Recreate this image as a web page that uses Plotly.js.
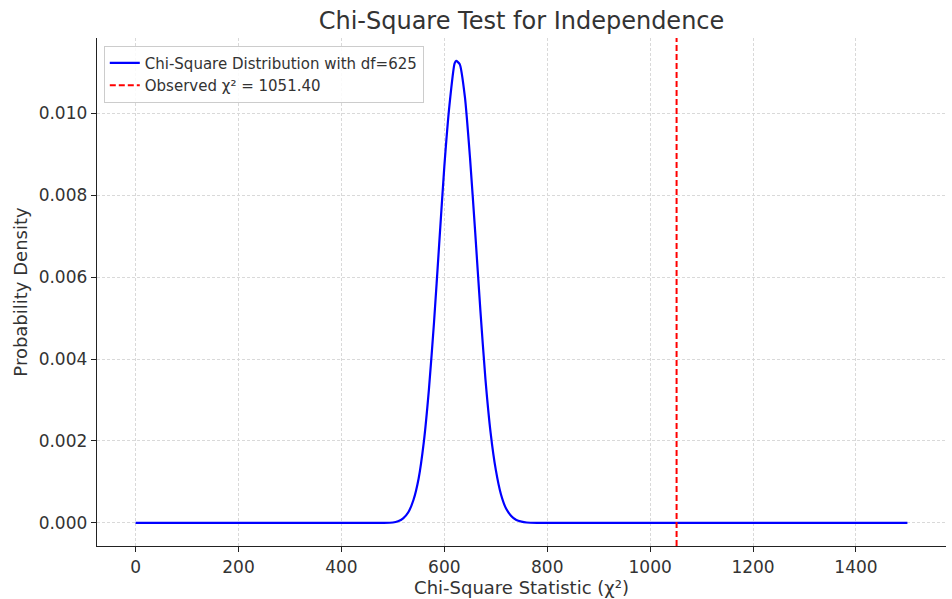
<!DOCTYPE html>
<html>
<head>
<meta charset="utf-8">
<script src="https://cdn.plot.ly/plotly-3.0.1.min.js"></script>
<style>html,body{margin:0;padding:0;background:#fff;}#chart{width:952px;height:599px;}</style>
</head>
<body>
<div id="chart"></div>
<script>
// Values
const chiX = [0, 100, 200, 300, 400, 450, 480, 500, 510, 520, 530, 540, 550, 560, 570, 580, 590, 600, 610, 620, 623, 630, 640, 650, 660, 670, 680, 690, 700, 710, 720, 730, 740, 750, 760, 780, 800, 850, 900, 1000, 1100, 1200, 1300, 1400, 1500];
const chiY = [0, 0, 0, 0, 0, 0, 0.000002, 0.00001, 0.00004, 0.00011, 0.00026, 0.00056, 0.00108, 0.00196, 0.00325, 0.0049, 0.0068, 0.0087, 0.0102, 0.01122, 0.01128, 0.0112, 0.0104, 0.0089, 0.0071, 0.0052, 0.0035, 0.0022, 0.0013, 0.0007, 0.00035, 0.00017, 0.00007, 0.00003, 0.00001, 0.000001, 0, 0, 0, 0, 0, 0, 0, 0, 0];
const observedChi2 = 1051.40;
const degreesOfFreedom = 625;
const xTicks = [0, 200, 400, 600, 800, 1000, 1200, 1400];
const yTicks = [0.000, 0.002, 0.004, 0.006, 0.008, 0.010];
const yTickLabels = ["0.000", "0.002", "0.004", "0.006", "0.008", "0.010"];
const xRange = [-75, 1575];
const yRange = [-0.000564, 0.01184];

const font = "DejaVu Sans, sans-serif";
const traces = [
  {
    x: chiX, y: chiY, type: "scatter", mode: "lines",
    name: "Chi-Square Distribution with df=" + degreesOfFreedom,
    line: {color: "#0000ff", width: 2.2, shape: "spline", smoothing: 0.6}
  },
  {
    x: [observedChi2, observedChi2], y: yRange, type: "scatter", mode: "lines",
    name: "Observed χ² = " + observedChi2.toFixed(2),
    line: {color: "#ff0000", width: 2, dash: "6px,3px"}
  }
];
const layout = {
  width: 952, height: 599,
  paper_bgcolor: "#fff", plot_bgcolor: "#fff",
  margin: {l: 97, r: 6, t: 38, b: 53},
  font: {family: font, color: "#333", size: 14},
  title: {text: "Chi-Square Test for Independence", font: {family: font, size: 24, color: "#333"}, xref: "paper", x: 0.5, xanchor: "center", y: 0.965, yanchor: "middle"},
  xaxis: {
    range: xRange, tickvals: xTicks, ticktext: xTicks.map(String),
    showline: true, linecolor: "#222", linewidth: 1.3, mirror: false,
    ticks: "outside", ticklen: 5, tickwidth: 1, tickcolor: "#222",
    tickfont: {size: 17, color: "#333"},
    showgrid: true, gridcolor: "#d9d9d9", griddash: "3px,2px", gridwidth: 1,
    zeroline: false,
    title: {text: "Chi-Square Statistic (χ²)", font: {size: 18, color: "#333"}, standoff: 4}
  },
  yaxis: {
    range: yRange, tickvals: yTicks, ticktext: yTickLabels,
    showline: true, linecolor: "#222", linewidth: 1.3, mirror: false,
    ticks: "outside", ticklen: 5, tickwidth: 1, tickcolor: "#222",
    tickfont: {size: 17, color: "#333"},
    showgrid: true, gridcolor: "#d9d9d9", griddash: "3px,2px", gridwidth: 1,
    zeroline: false,
    title: {text: "Probability Density", font: {size: 18, color: "#333"}, standoff: 6}
  },
  showlegend: true,
  legend: {
    x: 0.008, y: 0.985, xanchor: "left", yanchor: "top",
    bgcolor: "rgba(255,255,255,0.85)", bordercolor: "#cccccc", borderwidth: 1,
    font: {size: 15, color: "#333"}, tracegroupgap: 2
  }
};
Plotly.newPlot("chart", traces, layout, {displayModeBar: false, staticPlot: true});
</script>
</body>
</html>
